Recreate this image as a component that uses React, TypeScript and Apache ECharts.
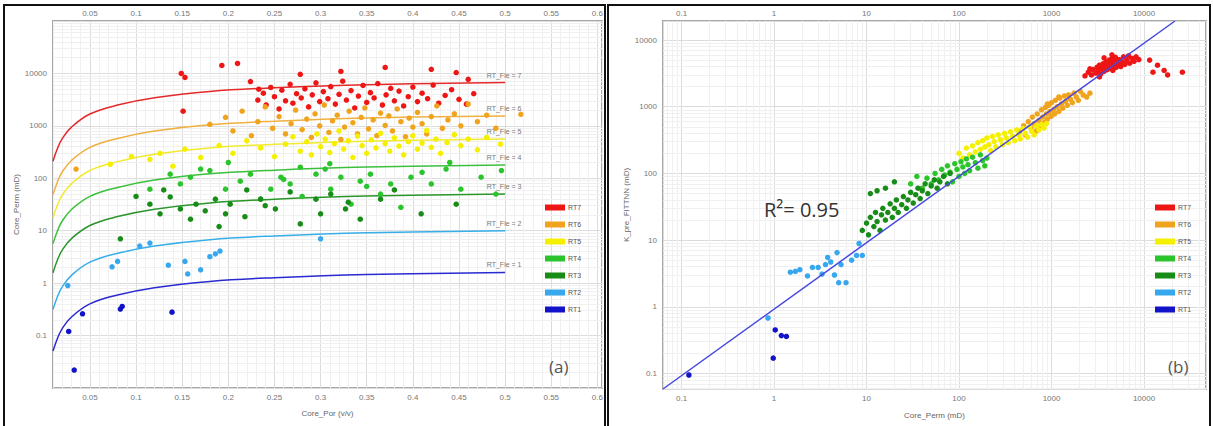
import React, { useEffect, useRef } from 'react';
import * as echarts from 'echarts';

const rtNames = ['RT7', 'RT6', 'RT5', 'RT4', 'RT3', 'RT2', 'RT1'];
const rtColors = ['#ee1515', '#f0a41e', '#f5ef00', '#2cc42c', '#178c17', '#38a8ee', '#1212c8'];
const curveColors = ['#e42a2a', '#f0b040', '#f2ea30', '#3cc03c', '#2a962a', '#38aee8', '#2a2ad0'];
const curveLabels = ['RT_Fle = 7', 'RT_Fle = 6', 'RT_Fle = 5', 'RT_Fle = 4', 'RT_Fle = 3', 'RT_Fle = 2', 'RT_Fle = 1'];

// (a) porosity grid for the fitted rock-type curves and their permeability values
const curvePor = [0.01, 0.015, 0.02, 0.03, 0.05, 0.08, 0.12, 0.18, 0.25, 0.35, 0.5];
const rt7Curve = [212, 377, 570, 946, 1683, 2489, 3436, 4529, 5321, 6109, 6700];
const rt6Curve = [49, 87, 132, 219, 389, 575, 794, 1047, 1230, 1413, 1550];
const rt5Curve = [17.7, 31.5, 47.6, 79, 141, 208, 287, 378, 445, 511, 560];
const rt4Curve = [5.7, 10.1, 15.3, 25.4, 45.2, 66.8, 92.3, 121.6, 143, 164, 180];
const rt3Curve = [1.58, 2.82, 4.27, 7.08, 12.6, 18.6, 25.7, 33.9, 39.8, 45.7, 50];
const rt2Curve = [0.316, 0.562, 0.851, 1.41, 2.51, 3.72, 5.13, 6.76, 7.94, 9.12, 10];
const rt1Curve = [0.0506, 0.09, 0.136, 0.226, 0.402, 0.594, 0.82, 1.08, 1.27, 1.46, 1.6];

// (a) core porosity vs core permeability
const rt7Left = [[0.149, 10000], [0.153, 8400], [0.193, 14200], [0.21, 15500], [0.224, 7000], [0.233, 5000], [0.278, 9600], [0.322, 10900], [0.37, 13000], [0.42, 12000], [0.447, 10400], [0.46, 7700], [0.151, 1900],
  [0.232, 3100], [0.238, 4200], [0.241, 2500], [0.246, 5400], [0.25, 3600], [0.255, 2100], [0.258, 4800], [0.262, 3000], [0.267, 6200], [0.27, 2700], [0.274, 4100], [0.279, 3400], [0.283, 5100], [0.287, 2300], [0.291, 3900], [0.295, 6600], [0.299, 2900], [0.303, 4500], [0.308, 3300], [0.311, 5600], [0.316, 2600], [0.32, 4000], [0.324, 7100], [0.328, 3100], [0.333, 4700], [0.337, 2200], [0.341, 3700], [0.346, 5900], [0.35, 2800], [0.354, 4300], [0.358, 3400], [0.362, 6400], [0.367, 2500], [0.371, 3900], [0.376, 5200], [0.38, 3000], [0.385, 4600], [0.39, 2400], [0.395, 3600], [0.4, 5500], [0.405, 2900], [0.41, 4200], [0.416, 3300], [0.422, 6000], [0.428, 2700], [0.435, 3800], [0.442, 4900], [0.45, 3200], [0.458, 2600], [0.466, 4100]];
const rt6Left = [[0.035, 150], [0.18, 1070], [0.197, 1450], [0.205, 800], [0.215, 1900], [0.225, 650], [0.232, 1200], [0.24, 2300], [0.248, 900], [0.255, 1500], [0.262, 700], [0.268, 1100], [0.273, 2000], [0.28, 850], [0.285, 1350], [0.29, 600], [0.294, 1700], [0.299, 1000], [0.304, 2500], [0.309, 750], [0.313, 1250], [0.318, 1600], [0.322, 550], [0.326, 950], [0.331, 1900], [0.335, 1150], [0.34, 700], [0.344, 1450], [0.348, 2200], [0.352, 880], [0.357, 1300], [0.361, 650], [0.365, 1750], [0.37, 1020], [0.374, 1550], [0.378, 800], [0.383, 2100], [0.387, 1200], [0.392, 620], [0.396, 1400], [0.4, 950], [0.405, 1800], [0.41, 1100], [0.415, 700], [0.42, 1500], [0.426, 2400], [0.432, 900], [0.438, 1300], [0.445, 1700], [0.452, 1000], [0.46, 2600], [0.47, 1200], [0.48, 1600], [0.49, 900], [0.517, 1660]];
const rt5Left = [[0.072, 185], [0.095, 260], [0.115, 230], [0.126, 300], [0.14, 170], [0.153, 360], [0.17, 250], [0.19, 420], [0.205, 300], [0.22, 520], [0.235, 380], [0.25, 260], [0.262, 450], [0.27, 620], [0.278, 330], [0.285, 500], [0.29, 280], [0.296, 700], [0.3, 400], [0.305, 560], [0.31, 310], [0.315, 460], [0.32, 800], [0.325, 360], [0.33, 520], [0.335, 250], [0.34, 640], [0.345, 420], [0.35, 300], [0.355, 540], [0.36, 380], [0.365, 720], [0.37, 460], [0.375, 330], [0.38, 590], [0.385, 410], [0.39, 280], [0.395, 500], [0.4, 650], [0.405, 360], [0.41, 470], [0.415, 820], [0.42, 390], [0.425, 560], [0.43, 300], [0.437, 480], [0.445, 680], [0.452, 420], [0.46, 560], [0.47, 350], [0.48, 600], [0.495, 450]];
const rt4Left = [[0.115, 62], [0.137, 120], [0.148, 78], [0.159, 105], [0.17, 150], [0.18, 140], [0.197, 62], [0.213, 88], [0.224, 120], [0.235, 40], [0.246, 62], [0.257, 105], [0.267, 78], [0.278, 163], [0.295, 120], [0.305, 150], [0.311, 62], [0.322, 105], [0.333, 32], [0.343, 88], [0.354, 120], [0.365, 50], [0.376, 78], [0.387, 28], [0.398, 105], [0.42, 78], [0.436, 150], [0.452, 62], [0.474, 105], [0.49, 50], [0.496, 140], [0.2, 200], [0.31, 190], [0.44, 200], [0.26, 95], [0.35, 70], [0.41, 130], [0.28, 45]];
const rt3Left = [[0.083, 7], [0.115, 32], [0.126, 21], [0.137, 44], [0.148, 26], [0.159, 16.6], [0.165, 32], [0.175, 24], [0.186, 40], [0.197, 21], [0.202, 32], [0.218, 18.5], [0.235, 40], [0.251, 26], [0.278, 13.5], [0.295, 40], [0.3, 21], [0.311, 50], [0.327, 26], [0.343, 16.6], [0.365, 40], [0.409, 21], [0.447, 32], [0.267, 55], [0.13, 60], [0.1, 45], [0.22, 60], [0.38, 60], [0.19, 12], [0.24, 30], [0.33, 35]];
const rt2Left = [[0.026, 0.9], [0.074, 2.05], [0.08, 2.6], [0.104, 5.1], [0.115, 5.8], [0.153, 2.6], [0.156, 1.5], [0.17, 1.8], [0.18, 3.2], [0.186, 3.6], [0.191, 4.1], [0.3, 7.0], [0.135, 2.2]];
const rt1Left = [[0.027, 0.12], [0.033, 0.022], [0.042, 0.26], [0.083, 0.32], [0.085, 0.36], [0.139, 0.28]];

// (b) core permeability vs predicted permeability
const rt7Right = [[2300, 2900], [2500, 3300], [2700, 3000], [2800, 3600], [3000, 3200], [3100, 3900], [3200, 3500], [3300, 4200], [3400, 3100], [3500, 3700], [3600, 4400], [3700, 3400], [3800, 4000], [3900, 4700], [4000, 3600], [4100, 4300], [4200, 5000], [4300, 3800], [4400, 4500], [4500, 5200], [4600, 3500], [4700, 4100], [4800, 4800], [4900, 5500], [5000, 3900], [5200, 4400], [5400, 5100], [5600, 4000], [5800, 4700], [6000, 5600], [6200, 4300], [6500, 5000], [6800, 5800], [7000, 4500], [7400, 5300], [7800, 4800], [8200, 5600], [8800, 5100], [3700, 5400], [4500, 6000], [2600, 3700], [3300, 2800], [11500, 5000], [12500, 3300], [14000, 4200], [16500, 3500], [18000, 3000], [26000, 3300]];
const rt6Right = [[450, 420], [500, 520], [520, 380], [560, 600], [600, 480], [620, 700], [650, 560], [680, 430], [700, 780], [730, 620], [760, 520], [780, 900], [800, 700], [830, 580], [860, 980], [880, 780], [900, 650], [930, 1050], [960, 850], [990, 720], [1000, 1150], [1050, 900], [1080, 780], [1100, 1250], [1150, 1000], [1200, 850], [1230, 1350], [1280, 1100], [1320, 950], [1380, 1450], [1420, 1200], [1480, 1050], [1530, 1500], [1600, 1300], [1680, 1150], [1750, 1600], [1850, 1400], [1950, 1250], [2050, 1700], [2200, 1500], [2400, 1400], [2600, 1600], [700, 500], [900, 1100], [1200, 1400]];
const rt5Right = [[100, 200], [110, 170], [120, 240], [130, 190], [140, 260], [150, 210], [160, 290], [170, 230], [180, 310], [190, 250], [200, 340], [210, 270], [220, 220], [230, 360], [240, 300], [250, 250], [265, 380], [280, 320], [295, 270], [310, 400], [325, 340], [340, 290], [360, 420], [380, 360], [400, 310], [420, 450], [440, 380], [460, 330], [490, 470], [520, 400], [550, 350], [580, 500], [610, 430], [650, 380], [690, 520], [730, 450], [780, 540], [830, 480], [880, 560]];
const rt4Right = [[40, 60], [45, 85], [50, 70], [55, 100], [60, 80], [65, 115], [70, 95], [75, 130], [80, 105], [85, 75], [90, 140], [95, 115], [100, 90], [105, 150], [110, 125], [115, 100], [120, 165], [125, 135], [130, 110], [140, 175], [150, 145], [160, 120], [170, 190], [180, 155], [190, 130], [200, 170], [30, 70], [35, 90]];
const rt3Right = [[9, 14], [10, 18], [10.5, 12], [11, 22], [12, 16], [12.5, 26], [13, 19], [14, 14], [14.5, 24], [15, 30], [16, 20], [17, 26], [18, 35], [19, 22], [20, 30], [21, 40], [22, 26], [24, 34], [25, 45], [27, 30], [28, 40], [30, 52], [32, 36], [34, 48], [36, 60], [38, 42], [40, 55], [43, 70], [46, 50], [50, 65], [54, 80], [58, 60], [62, 75], [68, 90], [75, 70], [80, 100], [11, 50], [13, 55], [16, 60], [20, 75]];
const rt2Right = [[0.86, 0.68], [1.5, 3.3], [1.7, 3.4], [1.9, 3.6], [2.3, 2.9], [2.6, 3.9], [3.0, 3.9], [3.3, 3.1], [3.6, 4.3], [4.1, 4.7], [4.5, 3.0], [5.0, 2.3], [5.3, 4.3], [6.0, 2.3], [6.9, 5.0], [7.8, 5.9], [8.3, 8.9], [9.0, 5.9], [4.8, 6.5], [3.8, 5.5]];
const rt1Right = [[0.12, 0.095], [0.98, 0.17], [1.03, 0.45], [1.2, 0.37], [1.36, 0.36]];

const fitLine = [[0.063, 0.0586], [21600, 19300]];
const r2Text = 'R\u00b2= 0.95';

const porTicks = [0.05, 0.1, 0.15, 0.2, 0.25, 0.3, 0.35, 0.4, 0.45, 0.5, 0.55, 0.6];
const leftYDecades = [0.01, 0.1, 1, 10, 100, 1000, 10000];
const rightXDecades = [0.01, 0.1, 1, 10, 100, 1000, 10000];
const rightYDecades = [0.01, 0.1, 1, 10, 100, 1000, 10000];

function minorValues(decades: number[], lo: number, hi: number) {
  const out: number[] = [];
  decades.forEach((d) => {
    for (let m = 2; m <= 9; m++) {
      const v = d * m;
      if (v > lo && v < hi) out.push(v);
    }
  });
  return out;
}

const fmt = (v: number) => String(Number(Number(v).toPrecision(6)));
const FONT = 'Liberation Sans';
const labelStyle = { color: '#777', fontSize: 8, fontFamily: FONT };
const nameStyle = { color: '#666', fontSize: 8, fontFamily: FONT };
const MAJOR = '#dcdcdc';
const MINOR = '#f0f0f0';

export default function App() {
  const ref = useRef<HTMLDivElement>(null);
  useEffect(() => {
    if (!ref.current) return;
    const chart = echarts.init(ref.current, null, { renderer: 'svg' });
    const leftCurves = [rt7Curve, rt6Curve, rt5Curve, rt4Curve, rt3Curve, rt2Curve, rt1Curve];
    const leftPts = [rt7Left, rt6Left, rt5Left, rt4Left, rt3Left, rt2Left, rt1Left];
    const rightPts = [rt7Right, rt6Right, rt5Right, rt4Right, rt3Right, rt2Right, rt1Right];

    const series: any[] = [];
    series.push({
      type: 'scatter', xAxisIndex: 0, yAxisIndex: 0, data: [[0.3, 1]], symbolSize: 0, silent: true, z: 1,
      markLine: {
        silent: true, symbol: 'none', z: 1, animation: false,
        label: { show: false },
        lineStyle: { color: MINOR, type: 'solid', width: 1 },
        data: minorValues(leftYDecades, 0.01, 100000).map((v) => ({ yAxis: v })),
      },
    });
    series.push({
      type: 'scatter', xAxisIndex: 2, yAxisIndex: 1, data: [[1, 1]], symbolSize: 0, silent: true, z: 1,
      markLine: {
        silent: true, symbol: 'none', z: 1, animation: false,
        label: { show: false },
        lineStyle: { color: MINOR, type: 'solid', width: 1 },
        data: [
          ...minorValues(rightXDecades, 0.063, 46800).map((v) => ({ xAxis: v })),
          ...minorValues(rightYDecades, 0.0586, 19300).map((v) => ({ yAxis: v })),
        ],
      },
    });
    leftCurves.forEach((c, i) => {
      series.push({
        name: rtNames[i] + ' fit', type: 'line', xAxisIndex: 0, yAxisIndex: 0,
        smooth: 0.4, showSymbol: true, symbol: 'circle', symbolSize: 0, z: 2,
        lineStyle: { color: curveColors[i], width: 1.5 }, itemStyle: { color: curveColors[i] },
        data: curvePor.map((p, j) => {
          const item: any = { value: [p, c[j]] };
          if (j === curvePor.length - 1) {
            item.label = {
              show: true, formatter: curveLabels[i], position: 'top', distance: 4, offset: [-1, 0],
              color: '#777', fontSize: 7, fontFamily: FONT,
            };
          }
          return item;
        }),
      });
    });
    leftPts.forEach((d, i) => {
      series.push({
        name: rtNames[i], type: 'scatter', xAxisIndex: 0, yAxisIndex: 0, z: 3,
        symbolSize: 5.5, itemStyle: { color: rtColors[i], opacity: 1 }, data: d,
      });
    });
    series.push({
      name: 'fit', type: 'line', xAxisIndex: 2, yAxisIndex: 1, z: 4, showSymbol: false,
      lineStyle: { color: '#4848e0', width: 1.5 }, data: fitLine,
    });
    rightPts.forEach((d, i) => {
      series.push({
        name: rtNames[i], type: 'scatter', xAxisIndex: 2, yAxisIndex: 1, z: 3,
        symbolSize: 5.5, itemStyle: { color: rtColors[i], opacity: 1 }, data: d,
      });
    });

    const legendBase = {
      orient: 'vertical', icon: 'rect', itemWidth: 20, itemHeight: 6, itemGap: 10,
      data: rtNames, selectedMode: false,
      textStyle: { color: '#555', fontSize: 7, fontFamily: FONT, padding: [0, 0, 0, -2] },
    };

    chart.setOption({
      animation: false,
      backgroundColor: '#ffffff',
      grid: [
        { left: 53, top: 21, width: 549, height: 367, show: true, borderColor: '#a8a8a8', borderWidth: 2, backgroundColor: '#fff' },
        { left: 663, top: 21, width: 543, height: 368, show: true, borderColor: '#a8a8a8', borderWidth: 2, backgroundColor: '#fff' },
      ],
      legend: [
        { ...legendBase, left: 540, top: 199 },
        { ...legendBase, left: 1150, top: 199 },
      ],
      xAxis: [
        {
          gridIndex: 0, type: 'value', position: 'bottom', min: 0.01, max: 0.605, interval: 0.01,
          axisLine: { show: false }, axisTick: { show: false },
          splitLine: { show: true, lineStyle: { color: [MINOR, MINOR, MINOR, MINOR, MAJOR], width: 1 } },
          axisLabel: { ...labelStyle, customValues: porTicks, formatter: (v: number) => fmt(v), margin: 5 },
          name: 'Core_Por (v/v)', nameLocation: 'middle', nameGap: 21, nameTextStyle: nameStyle,
        },
        {
          gridIndex: 0, type: 'value', position: 'top', min: 0.01, max: 0.605, interval: 0.01,
          axisLine: { show: false }, axisTick: { show: false }, splitLine: { show: false },
          axisLabel: { ...labelStyle, customValues: porTicks, formatter: (v: number) => fmt(v), margin: 4 },
        },
        {
          gridIndex: 1, type: 'log', logBase: 10, position: 'bottom', min: 0.063, max: 46800,
          axisLine: { show: false }, axisTick: { show: false },
          splitLine: { show: true, lineStyle: { color: MAJOR, width: 1 } },
          axisLabel: { ...labelStyle, showMinLabel: false, showMaxLabel: false, formatter: (v: number) => fmt(v), margin: 5 },
          name: 'Core_Perm (mD)', nameLocation: 'middle', nameGap: 22, nameTextStyle: nameStyle,
        },
        {
          gridIndex: 1, type: 'log', logBase: 10, position: 'top', min: 0.063, max: 46800,
          axisLine: { show: false }, axisTick: { show: false }, splitLine: { show: false },
          axisLabel: { ...labelStyle, showMinLabel: false, showMaxLabel: false, formatter: (v: number) => fmt(v), margin: 4 },
        },
      ],
      yAxis: [
        {
          gridIndex: 0, type: 'log', logBase: 10, min: 0.01, max: 100000,
          axisLine: { show: false }, axisTick: { show: false },
          splitLine: { show: true, lineStyle: { color: MAJOR, width: 1 } },
          axisLabel: { ...labelStyle, showMinLabel: false, showMaxLabel: false, formatter: (v: number) => fmt(v), margin: 6 },
          name: 'Core_Perm (mD)', nameLocation: 'middle', nameGap: 30, nameRotate: 90, nameTextStyle: nameStyle,
        },
        {
          gridIndex: 1, type: 'log', logBase: 10, min: 0.0586, max: 19300,
          axisLine: { show: false }, axisTick: { show: false },
          splitLine: { show: true, lineStyle: { color: MAJOR, width: 1 } },
          axisLabel: { ...labelStyle, showMinLabel: false, showMaxLabel: false, formatter: (v: number) => fmt(v), margin: 6 },
          name: 'K_pre_FITTNN (mD)', nameLocation: 'middle', nameGap: 30, nameRotate: 90, nameTextStyle: nameStyle,
        },
      ],
      graphic: [
        { type: 'rect', shape: { x: 4, y: 5, width: 601, height: 440 }, style: { fill: 'none', stroke: '#111', lineWidth: 2 }, z: 10, silent: true },
        { type: 'rect', shape: { x: 608, y: 5, width: 602, height: 440 }, style: { fill: 'none', stroke: '#111', lineWidth: 2 }, z: 10, silent: true },
        { type: 'text', left: 549, top: 358, style: { text: '(a)', fill: '#555', fontSize: 17, fontFamily: 'Open Sans' }, z: 10 },
        { type: 'text', left: 1168, top: 358, style: { text: '(b)', fill: '#555', fontSize: 17, fontFamily: 'Open Sans' }, z: 10 },
        { type: 'text', left: 764, top: 199, style: { text: r2Text, fill: '#333', fontSize: 20, fontFamily: 'Open Sans' }, z: 10 },
      ],
      series,
    });
    return () => chart.dispose();
  }, []);
  return <div ref={ref} style={{ position: 'fixed', left: 0, top: 0, width: 1213, height: 426, background: '#fff' }} />;
}
